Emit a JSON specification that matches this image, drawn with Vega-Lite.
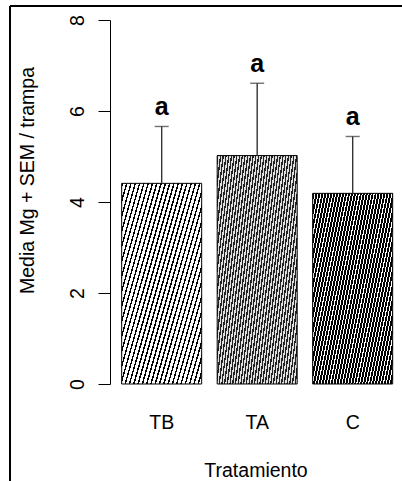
{
  "$schema": "https://vega.github.io/schema/vega-lite/v6.json",
  "autosize": "none",
  "padding": {"left": 10, "top": 6, "right": 0, "bottom": 0},
  "width": 392,
  "height": 475,
  "background": "white",
  "view": {"stroke": "#000", "strokeWidth": 2, "strokeDash": [392, 867, 475, 0], "fill": null},
  "config": {"font": "Liberation Sans"},
  "data": {"values": [
    {"trat": "TB", "mean": 4.41, "upper": 5.66, "sig": "a"},
    {"trat": "TA", "mean": 5.02, "upper": 6.61, "sig": "a"},
    {"trat": "C", "mean": 4.19, "upper": 5.44, "sig": "a"}
  ]},
  "encoding": {
    "x": {
      "field": "trat", "type": "nominal", "sort": ["TB", "TA", "C"],
      "scale": {"domain": ["TB", "TA", "C"], "paddingInner": 0.1623, "paddingOuter": 0.6335, "align": 0.923},
      "axis": {
        "orient": "bottom", "offset": -97, "domain": false, "ticks": false, "tickSize": 0,
        "labelPadding": 44.3, "labelBaseline": "alphabetic", "labelAngle": 0,
        "labelFont": "Liberation Sans", "labelFontSize": 19.5, "labelColor": "#000",
        "title": "Tratamiento", "titleFont": "Liberation Sans", "titleFontSize": 19.5,
        "titleFontWeight": "normal", "titleColor": "#000", "titleX": 245.5, "titleY": 92.7,
        "titleAlign": "center", "titleBaseline": "alphabetic"
      }
    },
    "y": {
      "field": "mean", "type": "quantitative",
      "scale": {"domain": [-2.1319, 8.3077], "nice": false, "zero": false},
      "axis": {
        "values": [0, 2, 4, 6, 8], "offset": -100, "grid": false,
        "domainColor": "#000", "domainWidth": 1, "domainDash": [364, 2000], "domainDashOffset": 2267,
        "tickColor": "#000", "tickWidth": 1, "tickSize": 12,
        "labelAngle": -90, "labelAlign": "center", "labelBaseline": "alphabetic", "labelPadding": 15,
        "labelFont": "Liberation Sans", "labelFontSize": 19.5, "labelColor": "#000", "labelOverlap": false, "labelFlush": false,
        "title": "Media Mg + SEM / trampa", "titleFont": "Liberation Sans", "titleFontSize": 19.5,
        "titleFontWeight": "normal", "titleColor": "#000", "titleX": -76.5, "titleY": 174,
        "titleAngle": -90, "titleAlign": "center", "titleBaseline": "alphabetic"
      }
    }
  },
  "layer": [
    {
      "transform": [{"filter": "datum.trat === 'TB'"}],
      "mark": {
        "type": "bar", "stroke": "#000", "strokeWidth": 1,
        "fill": {"gradient": "linear", "x1": 0, "y1": 0, "x2": 1.134, "y2": 0.814, "stops": [
          {"offset": 0, "color": "#000"}, {"offset": 0.011, "color": "#000"}, {"offset": 0.011, "color": "#fff"}, {"offset": 0.03125, "color": "#fff"},
          {"offset": 0.03125, "color": "#000"}, {"offset": 0.04225, "color": "#000"}, {"offset": 0.04225, "color": "#fff"}, {"offset": 0.0625, "color": "#fff"},
          {"offset": 0.0625, "color": "#000"}, {"offset": 0.0735, "color": "#000"}, {"offset": 0.0735, "color": "#fff"}, {"offset": 0.09375, "color": "#fff"},
          {"offset": 0.09375, "color": "#000"}, {"offset": 0.10475, "color": "#000"}, {"offset": 0.10475, "color": "#fff"}, {"offset": 0.125, "color": "#fff"},
          {"offset": 0.125, "color": "#000"}, {"offset": 0.136, "color": "#000"}, {"offset": 0.136, "color": "#fff"}, {"offset": 0.15625, "color": "#fff"},
          {"offset": 0.15625, "color": "#000"}, {"offset": 0.16725, "color": "#000"}, {"offset": 0.16725, "color": "#fff"}, {"offset": 0.1875, "color": "#fff"},
          {"offset": 0.1875, "color": "#000"}, {"offset": 0.1985, "color": "#000"}, {"offset": 0.1985, "color": "#fff"}, {"offset": 0.21875, "color": "#fff"},
          {"offset": 0.21875, "color": "#000"}, {"offset": 0.22975, "color": "#000"}, {"offset": 0.22975, "color": "#fff"}, {"offset": 0.25, "color": "#fff"},
          {"offset": 0.25, "color": "#000"}, {"offset": 0.261, "color": "#000"}, {"offset": 0.261, "color": "#fff"}, {"offset": 0.28125, "color": "#fff"},
          {"offset": 0.28125, "color": "#000"}, {"offset": 0.29225, "color": "#000"}, {"offset": 0.29225, "color": "#fff"}, {"offset": 0.3125, "color": "#fff"},
          {"offset": 0.3125, "color": "#000"}, {"offset": 0.3235, "color": "#000"}, {"offset": 0.3235, "color": "#fff"}, {"offset": 0.34375, "color": "#fff"},
          {"offset": 0.34375, "color": "#000"}, {"offset": 0.35475, "color": "#000"}, {"offset": 0.35475, "color": "#fff"}, {"offset": 0.375, "color": "#fff"},
          {"offset": 0.375, "color": "#000"}, {"offset": 0.386, "color": "#000"}, {"offset": 0.386, "color": "#fff"}, {"offset": 0.40625, "color": "#fff"},
          {"offset": 0.40625, "color": "#000"}, {"offset": 0.41725, "color": "#000"}, {"offset": 0.41725, "color": "#fff"}, {"offset": 0.4375, "color": "#fff"},
          {"offset": 0.4375, "color": "#000"}, {"offset": 0.4485, "color": "#000"}, {"offset": 0.4485, "color": "#fff"}, {"offset": 0.46875, "color": "#fff"},
          {"offset": 0.46875, "color": "#000"}, {"offset": 0.47975, "color": "#000"}, {"offset": 0.47975, "color": "#fff"}, {"offset": 0.5, "color": "#fff"},
          {"offset": 0.5, "color": "#000"}, {"offset": 0.511, "color": "#000"}, {"offset": 0.511, "color": "#fff"}, {"offset": 0.53125, "color": "#fff"},
          {"offset": 0.53125, "color": "#000"}, {"offset": 0.54225, "color": "#000"}, {"offset": 0.54225, "color": "#fff"}, {"offset": 0.5625, "color": "#fff"},
          {"offset": 0.5625, "color": "#000"}, {"offset": 0.5735, "color": "#000"}, {"offset": 0.5735, "color": "#fff"}, {"offset": 0.59375, "color": "#fff"},
          {"offset": 0.59375, "color": "#000"}, {"offset": 0.60475, "color": "#000"}, {"offset": 0.60475, "color": "#fff"}, {"offset": 0.625, "color": "#fff"},
          {"offset": 0.625, "color": "#000"}, {"offset": 0.636, "color": "#000"}, {"offset": 0.636, "color": "#fff"}, {"offset": 0.65625, "color": "#fff"},
          {"offset": 0.65625, "color": "#000"}, {"offset": 0.66725, "color": "#000"}, {"offset": 0.66725, "color": "#fff"}, {"offset": 0.6875, "color": "#fff"},
          {"offset": 0.6875, "color": "#000"}, {"offset": 0.6985, "color": "#000"}, {"offset": 0.6985, "color": "#fff"}, {"offset": 0.71875, "color": "#fff"},
          {"offset": 0.71875, "color": "#000"}, {"offset": 0.72975, "color": "#000"}, {"offset": 0.72975, "color": "#fff"}, {"offset": 0.75, "color": "#fff"},
          {"offset": 0.75, "color": "#000"}, {"offset": 0.761, "color": "#000"}, {"offset": 0.761, "color": "#fff"}, {"offset": 0.78125, "color": "#fff"},
          {"offset": 0.78125, "color": "#000"}, {"offset": 0.79225, "color": "#000"}, {"offset": 0.79225, "color": "#fff"}, {"offset": 0.8125, "color": "#fff"},
          {"offset": 0.8125, "color": "#000"}, {"offset": 0.8235, "color": "#000"}, {"offset": 0.8235, "color": "#fff"}, {"offset": 0.84375, "color": "#fff"},
          {"offset": 0.84375, "color": "#000"}, {"offset": 0.85475, "color": "#000"}, {"offset": 0.85475, "color": "#fff"}, {"offset": 0.875, "color": "#fff"},
          {"offset": 0.875, "color": "#000"}, {"offset": 0.886, "color": "#000"}, {"offset": 0.886, "color": "#fff"}, {"offset": 0.90625, "color": "#fff"},
          {"offset": 0.90625, "color": "#000"}, {"offset": 0.91725, "color": "#000"}, {"offset": 0.91725, "color": "#fff"}, {"offset": 0.9375, "color": "#fff"},
          {"offset": 0.9375, "color": "#000"}, {"offset": 0.9485, "color": "#000"}, {"offset": 0.9485, "color": "#fff"}, {"offset": 0.96875, "color": "#fff"},
          {"offset": 0.96875, "color": "#000"}, {"offset": 0.97975, "color": "#000"}, {"offset": 0.97975, "color": "#fff"}, {"offset": 1, "color": "#fff"}
        ]}
      }
    },
    {
      "transform": [{"filter": "datum.trat === 'TA'"}],
      "mark": {
        "type": "bar", "stroke": "#000", "strokeWidth": 1,
        "fill": {"gradient": "linear", "x1": 0, "y1": 0, "x2": 1.204, "y2": 0.43, "stops": [
          {"offset": 0, "color": "#222"}, {"offset": 0.0125, "color": "#222"}, {"offset": 0.0125, "color": "#e0e0e0"}, {"offset": 0.025, "color": "#e0e0e0"},
          {"offset": 0.025, "color": "#222"}, {"offset": 0.0375, "color": "#222"}, {"offset": 0.0375, "color": "#e0e0e0"}, {"offset": 0.05, "color": "#e0e0e0"},
          {"offset": 0.05, "color": "#222"}, {"offset": 0.0625, "color": "#222"}, {"offset": 0.0625, "color": "#e0e0e0"}, {"offset": 0.075, "color": "#e0e0e0"},
          {"offset": 0.075, "color": "#222"}, {"offset": 0.0875, "color": "#222"}, {"offset": 0.0875, "color": "#e0e0e0"}, {"offset": 0.1, "color": "#e0e0e0"},
          {"offset": 0.1, "color": "#222"}, {"offset": 0.1125, "color": "#222"}, {"offset": 0.1125, "color": "#e0e0e0"}, {"offset": 0.125, "color": "#e0e0e0"},
          {"offset": 0.125, "color": "#222"}, {"offset": 0.1375, "color": "#222"}, {"offset": 0.1375, "color": "#e0e0e0"}, {"offset": 0.15, "color": "#e0e0e0"},
          {"offset": 0.15, "color": "#222"}, {"offset": 0.1625, "color": "#222"}, {"offset": 0.1625, "color": "#e0e0e0"}, {"offset": 0.175, "color": "#e0e0e0"},
          {"offset": 0.175, "color": "#222"}, {"offset": 0.1875, "color": "#222"}, {"offset": 0.1875, "color": "#e0e0e0"}, {"offset": 0.2, "color": "#e0e0e0"},
          {"offset": 0.2, "color": "#222"}, {"offset": 0.2125, "color": "#222"}, {"offset": 0.2125, "color": "#e0e0e0"}, {"offset": 0.225, "color": "#e0e0e0"},
          {"offset": 0.225, "color": "#222"}, {"offset": 0.2375, "color": "#222"}, {"offset": 0.2375, "color": "#e0e0e0"}, {"offset": 0.25, "color": "#e0e0e0"},
          {"offset": 0.25, "color": "#222"}, {"offset": 0.2625, "color": "#222"}, {"offset": 0.2625, "color": "#e0e0e0"}, {"offset": 0.275, "color": "#e0e0e0"},
          {"offset": 0.275, "color": "#222"}, {"offset": 0.2875, "color": "#222"}, {"offset": 0.2875, "color": "#e0e0e0"}, {"offset": 0.3, "color": "#e0e0e0"},
          {"offset": 0.3, "color": "#222"}, {"offset": 0.3125, "color": "#222"}, {"offset": 0.3125, "color": "#e0e0e0"}, {"offset": 0.325, "color": "#e0e0e0"},
          {"offset": 0.325, "color": "#222"}, {"offset": 0.3375, "color": "#222"}, {"offset": 0.3375, "color": "#e0e0e0"}, {"offset": 0.35, "color": "#e0e0e0"},
          {"offset": 0.35, "color": "#222"}, {"offset": 0.3625, "color": "#222"}, {"offset": 0.3625, "color": "#e0e0e0"}, {"offset": 0.375, "color": "#e0e0e0"},
          {"offset": 0.375, "color": "#222"}, {"offset": 0.3875, "color": "#222"}, {"offset": 0.3875, "color": "#e0e0e0"}, {"offset": 0.4, "color": "#e0e0e0"},
          {"offset": 0.4, "color": "#222"}, {"offset": 0.4125, "color": "#222"}, {"offset": 0.4125, "color": "#e0e0e0"}, {"offset": 0.425, "color": "#e0e0e0"},
          {"offset": 0.425, "color": "#222"}, {"offset": 0.4375, "color": "#222"}, {"offset": 0.4375, "color": "#e0e0e0"}, {"offset": 0.45, "color": "#e0e0e0"},
          {"offset": 0.45, "color": "#222"}, {"offset": 0.4625, "color": "#222"}, {"offset": 0.4625, "color": "#e0e0e0"}, {"offset": 0.475, "color": "#e0e0e0"},
          {"offset": 0.475, "color": "#222"}, {"offset": 0.4875, "color": "#222"}, {"offset": 0.4875, "color": "#e0e0e0"}, {"offset": 0.5, "color": "#e0e0e0"},
          {"offset": 0.5, "color": "#222"}, {"offset": 0.5125, "color": "#222"}, {"offset": 0.5125, "color": "#e0e0e0"}, {"offset": 0.525, "color": "#e0e0e0"},
          {"offset": 0.525, "color": "#222"}, {"offset": 0.5375, "color": "#222"}, {"offset": 0.5375, "color": "#e0e0e0"}, {"offset": 0.55, "color": "#e0e0e0"},
          {"offset": 0.55, "color": "#222"}, {"offset": 0.5625, "color": "#222"}, {"offset": 0.5625, "color": "#e0e0e0"}, {"offset": 0.575, "color": "#e0e0e0"},
          {"offset": 0.575, "color": "#222"}, {"offset": 0.5875, "color": "#222"}, {"offset": 0.5875, "color": "#e0e0e0"}, {"offset": 0.6, "color": "#e0e0e0"},
          {"offset": 0.6, "color": "#222"}, {"offset": 0.6125, "color": "#222"}, {"offset": 0.6125, "color": "#e0e0e0"}, {"offset": 0.625, "color": "#e0e0e0"},
          {"offset": 0.625, "color": "#222"}, {"offset": 0.6375, "color": "#222"}, {"offset": 0.6375, "color": "#e0e0e0"}, {"offset": 0.65, "color": "#e0e0e0"},
          {"offset": 0.65, "color": "#222"}, {"offset": 0.6625, "color": "#222"}, {"offset": 0.6625, "color": "#e0e0e0"}, {"offset": 0.675, "color": "#e0e0e0"},
          {"offset": 0.675, "color": "#222"}, {"offset": 0.6875, "color": "#222"}, {"offset": 0.6875, "color": "#e0e0e0"}, {"offset": 0.7, "color": "#e0e0e0"},
          {"offset": 0.7, "color": "#222"}, {"offset": 0.7125, "color": "#222"}, {"offset": 0.7125, "color": "#e0e0e0"}, {"offset": 0.725, "color": "#e0e0e0"},
          {"offset": 0.725, "color": "#222"}, {"offset": 0.7375, "color": "#222"}, {"offset": 0.7375, "color": "#e0e0e0"}, {"offset": 0.75, "color": "#e0e0e0"},
          {"offset": 0.75, "color": "#222"}, {"offset": 0.7625, "color": "#222"}, {"offset": 0.7625, "color": "#e0e0e0"}, {"offset": 0.775, "color": "#e0e0e0"},
          {"offset": 0.775, "color": "#222"}, {"offset": 0.7875, "color": "#222"}, {"offset": 0.7875, "color": "#e0e0e0"}, {"offset": 0.8, "color": "#e0e0e0"},
          {"offset": 0.8, "color": "#222"}, {"offset": 0.8125, "color": "#222"}, {"offset": 0.8125, "color": "#e0e0e0"}, {"offset": 0.825, "color": "#e0e0e0"},
          {"offset": 0.825, "color": "#222"}, {"offset": 0.8375, "color": "#222"}, {"offset": 0.8375, "color": "#e0e0e0"}, {"offset": 0.85, "color": "#e0e0e0"},
          {"offset": 0.85, "color": "#222"}, {"offset": 0.8625, "color": "#222"}, {"offset": 0.8625, "color": "#e0e0e0"}, {"offset": 0.875, "color": "#e0e0e0"},
          {"offset": 0.875, "color": "#222"}, {"offset": 0.8875, "color": "#222"}, {"offset": 0.8875, "color": "#e0e0e0"}, {"offset": 0.9, "color": "#e0e0e0"},
          {"offset": 0.9, "color": "#222"}, {"offset": 0.9125, "color": "#222"}, {"offset": 0.9125, "color": "#e0e0e0"}, {"offset": 0.925, "color": "#e0e0e0"},
          {"offset": 0.925, "color": "#222"}, {"offset": 0.9375, "color": "#222"}, {"offset": 0.9375, "color": "#e0e0e0"}, {"offset": 0.95, "color": "#e0e0e0"},
          {"offset": 0.95, "color": "#222"}, {"offset": 0.9625, "color": "#222"}, {"offset": 0.9625, "color": "#e0e0e0"}, {"offset": 0.975, "color": "#e0e0e0"},
          {"offset": 0.975, "color": "#222"}, {"offset": 0.9875, "color": "#222"}, {"offset": 0.9875, "color": "#e0e0e0"}, {"offset": 1, "color": "#e0e0e0"}
        ]}
      }
    },
    {
      "transform": [{"filter": "datum.trat === 'C'"}],
      "mark": {
        "type": "bar", "stroke": "#000", "strokeWidth": 1,
        "fill": {"gradient": "linear", "x1": 0, "y1": 0, "x2": 1.203, "y2": 0.5746, "stops": [
          {"offset": 0, "color": "#000"}, {"offset": 0.01625, "color": "#000"}, {"offset": 0.01625, "color": "#fff"}, {"offset": 0.025, "color": "#fff"},
          {"offset": 0.025, "color": "#000"}, {"offset": 0.04125, "color": "#000"}, {"offset": 0.04125, "color": "#fff"}, {"offset": 0.05, "color": "#fff"},
          {"offset": 0.05, "color": "#000"}, {"offset": 0.06625, "color": "#000"}, {"offset": 0.06625, "color": "#fff"}, {"offset": 0.075, "color": "#fff"},
          {"offset": 0.075, "color": "#000"}, {"offset": 0.09125, "color": "#000"}, {"offset": 0.09125, "color": "#fff"}, {"offset": 0.1, "color": "#fff"},
          {"offset": 0.1, "color": "#000"}, {"offset": 0.11625, "color": "#000"}, {"offset": 0.11625, "color": "#fff"}, {"offset": 0.125, "color": "#fff"},
          {"offset": 0.125, "color": "#000"}, {"offset": 0.14125, "color": "#000"}, {"offset": 0.14125, "color": "#fff"}, {"offset": 0.15, "color": "#fff"},
          {"offset": 0.15, "color": "#000"}, {"offset": 0.16625, "color": "#000"}, {"offset": 0.16625, "color": "#fff"}, {"offset": 0.175, "color": "#fff"},
          {"offset": 0.175, "color": "#000"}, {"offset": 0.19125, "color": "#000"}, {"offset": 0.19125, "color": "#fff"}, {"offset": 0.2, "color": "#fff"},
          {"offset": 0.2, "color": "#000"}, {"offset": 0.21625, "color": "#000"}, {"offset": 0.21625, "color": "#fff"}, {"offset": 0.225, "color": "#fff"},
          {"offset": 0.225, "color": "#000"}, {"offset": 0.24125, "color": "#000"}, {"offset": 0.24125, "color": "#fff"}, {"offset": 0.25, "color": "#fff"},
          {"offset": 0.25, "color": "#000"}, {"offset": 0.26625, "color": "#000"}, {"offset": 0.26625, "color": "#fff"}, {"offset": 0.275, "color": "#fff"},
          {"offset": 0.275, "color": "#000"}, {"offset": 0.29125, "color": "#000"}, {"offset": 0.29125, "color": "#fff"}, {"offset": 0.3, "color": "#fff"},
          {"offset": 0.3, "color": "#000"}, {"offset": 0.31625, "color": "#000"}, {"offset": 0.31625, "color": "#fff"}, {"offset": 0.325, "color": "#fff"},
          {"offset": 0.325, "color": "#000"}, {"offset": 0.34125, "color": "#000"}, {"offset": 0.34125, "color": "#fff"}, {"offset": 0.35, "color": "#fff"},
          {"offset": 0.35, "color": "#000"}, {"offset": 0.36625, "color": "#000"}, {"offset": 0.36625, "color": "#fff"}, {"offset": 0.375, "color": "#fff"},
          {"offset": 0.375, "color": "#000"}, {"offset": 0.39125, "color": "#000"}, {"offset": 0.39125, "color": "#fff"}, {"offset": 0.4, "color": "#fff"},
          {"offset": 0.4, "color": "#000"}, {"offset": 0.41625, "color": "#000"}, {"offset": 0.41625, "color": "#fff"}, {"offset": 0.425, "color": "#fff"},
          {"offset": 0.425, "color": "#000"}, {"offset": 0.44125, "color": "#000"}, {"offset": 0.44125, "color": "#fff"}, {"offset": 0.45, "color": "#fff"},
          {"offset": 0.45, "color": "#000"}, {"offset": 0.46625, "color": "#000"}, {"offset": 0.46625, "color": "#fff"}, {"offset": 0.475, "color": "#fff"},
          {"offset": 0.475, "color": "#000"}, {"offset": 0.49125, "color": "#000"}, {"offset": 0.49125, "color": "#fff"}, {"offset": 0.5, "color": "#fff"},
          {"offset": 0.5, "color": "#000"}, {"offset": 0.51625, "color": "#000"}, {"offset": 0.51625, "color": "#fff"}, {"offset": 0.525, "color": "#fff"},
          {"offset": 0.525, "color": "#000"}, {"offset": 0.54125, "color": "#000"}, {"offset": 0.54125, "color": "#fff"}, {"offset": 0.55, "color": "#fff"},
          {"offset": 0.55, "color": "#000"}, {"offset": 0.56625, "color": "#000"}, {"offset": 0.56625, "color": "#fff"}, {"offset": 0.575, "color": "#fff"},
          {"offset": 0.575, "color": "#000"}, {"offset": 0.59125, "color": "#000"}, {"offset": 0.59125, "color": "#fff"}, {"offset": 0.6, "color": "#fff"},
          {"offset": 0.6, "color": "#000"}, {"offset": 0.61625, "color": "#000"}, {"offset": 0.61625, "color": "#fff"}, {"offset": 0.625, "color": "#fff"},
          {"offset": 0.625, "color": "#000"}, {"offset": 0.64125, "color": "#000"}, {"offset": 0.64125, "color": "#fff"}, {"offset": 0.65, "color": "#fff"},
          {"offset": 0.65, "color": "#000"}, {"offset": 0.66625, "color": "#000"}, {"offset": 0.66625, "color": "#fff"}, {"offset": 0.675, "color": "#fff"},
          {"offset": 0.675, "color": "#000"}, {"offset": 0.69125, "color": "#000"}, {"offset": 0.69125, "color": "#fff"}, {"offset": 0.7, "color": "#fff"},
          {"offset": 0.7, "color": "#000"}, {"offset": 0.71625, "color": "#000"}, {"offset": 0.71625, "color": "#fff"}, {"offset": 0.725, "color": "#fff"},
          {"offset": 0.725, "color": "#000"}, {"offset": 0.74125, "color": "#000"}, {"offset": 0.74125, "color": "#fff"}, {"offset": 0.75, "color": "#fff"},
          {"offset": 0.75, "color": "#000"}, {"offset": 0.76625, "color": "#000"}, {"offset": 0.76625, "color": "#fff"}, {"offset": 0.775, "color": "#fff"},
          {"offset": 0.775, "color": "#000"}, {"offset": 0.79125, "color": "#000"}, {"offset": 0.79125, "color": "#fff"}, {"offset": 0.8, "color": "#fff"},
          {"offset": 0.8, "color": "#000"}, {"offset": 0.81625, "color": "#000"}, {"offset": 0.81625, "color": "#fff"}, {"offset": 0.825, "color": "#fff"},
          {"offset": 0.825, "color": "#000"}, {"offset": 0.84125, "color": "#000"}, {"offset": 0.84125, "color": "#fff"}, {"offset": 0.85, "color": "#fff"},
          {"offset": 0.85, "color": "#000"}, {"offset": 0.86625, "color": "#000"}, {"offset": 0.86625, "color": "#fff"}, {"offset": 0.875, "color": "#fff"},
          {"offset": 0.875, "color": "#000"}, {"offset": 0.89125, "color": "#000"}, {"offset": 0.89125, "color": "#fff"}, {"offset": 0.9, "color": "#fff"},
          {"offset": 0.9, "color": "#000"}, {"offset": 0.91625, "color": "#000"}, {"offset": 0.91625, "color": "#fff"}, {"offset": 0.925, "color": "#fff"},
          {"offset": 0.925, "color": "#000"}, {"offset": 0.94125, "color": "#000"}, {"offset": 0.94125, "color": "#fff"}, {"offset": 0.95, "color": "#fff"},
          {"offset": 0.95, "color": "#000"}, {"offset": 0.96625, "color": "#000"}, {"offset": 0.96625, "color": "#fff"}, {"offset": 0.975, "color": "#fff"},
          {"offset": 0.975, "color": "#000"}, {"offset": 0.99125, "color": "#000"}, {"offset": 0.99125, "color": "#fff"}, {"offset": 1, "color": "#fff"}
        ]}
      }
    },
    {
      "mark": {"type": "rule", "color": "#333", "strokeWidth": 1.4},
      "encoding": {
        "y2": {"field": "upper"}
      }
    },
    {
      "mark": {"type": "tick", "color": "#333", "thickness": 1.4, "size": 14, "orient": "horizontal"},
      "encoding": {
        "y": {"field": "upper", "type": "quantitative", "scale": {"domain": [-2.1319, 8.3077], "nice": false, "zero": false}}
      }
    },
    {
      "mark": {"type": "text", "font": "Liberation Sans", "fontSize": 25, "fontWeight": "bold", "color": "#000", "baseline": "alphabetic", "align": "center", "dy": -11},
      "encoding": {
        "y": {"field": "upper", "type": "quantitative", "scale": {"domain": [-2.1319, 8.3077], "nice": false, "zero": false}},
        "text": {"field": "sig"}
      }
    }
  ]
}
